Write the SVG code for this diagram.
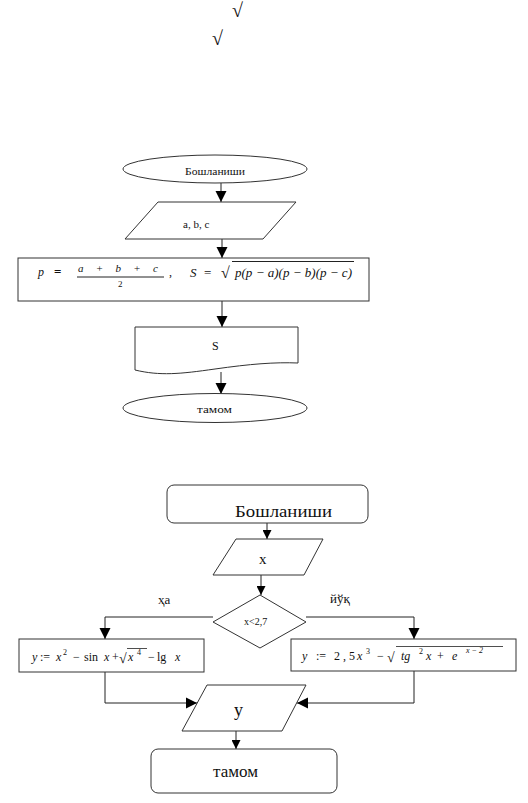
<svg xmlns="http://www.w3.org/2000/svg" width="528" height="803" viewBox="0 0 528 803">
<style>
.s{fill:#fff;stroke:#333;stroke-width:1}
.c{fill:none;stroke:#222;stroke-width:1}
.t{font-family:"Liberation Serif","Times New Roman",serif;fill:#111}
.i{font-style:italic}
</style>
<defs>
<marker id="aL" viewBox="0 0 10 10" refX="10" refY="5" markerWidth="11" markerHeight="12" markerUnits="userSpaceOnUse" orient="auto"><path d="M0,0 L10,5 L0,10 Z" fill="#000"/></marker>
<marker id="aS" viewBox="0 0 10 10" refX="10" refY="5" markerWidth="9" markerHeight="9" markerUnits="userSpaceOnUse" orient="auto"><path d="M0,0 L10,5 L0,10 Z" fill="#000"/></marker>
</defs>
<rect width="528" height="803" fill="#fff"/>
<text class="t" x="232" y="17" font-size="20">√</text>
<text class="t" x="212" y="45" font-size="20">√</text>

<g id="connectors">
<path class="c" d="M221,183 V202" marker-end="url(#aL)"/>
<path class="c" d="M222,239 V258" marker-end="url(#aL)"/>
<path class="c" d="M222,301 V327" marker-end="url(#aL)"/>
<path class="c" d="M221,372 V394" marker-end="url(#aL)"/>
<path class="c" d="M267,523 V539" marker-end="url(#aS)"/>
<path class="c" d="M261,575 V595" marker-end="url(#aS)"/>
<path class="c" d="M213,617 H105 V639" marker-end="url(#aL)"/>
<path class="c" d="M306,617 H414 V639" marker-end="url(#aL)"/>
<path class="c" d="M105,672 V703 H197" marker-end="url(#aL)"/>
<path class="c" d="M414,671 V703 H297" marker-end="url(#aL)"/>
<path class="c" d="M236,731 V749" marker-end="url(#aS)"/>
</g>

<g id="start1">
<ellipse class="s" cx="215" cy="169" rx="92" ry="14"/>
<text class="t" x="185" y="175" font-size="11" textLength="60" lengthAdjust="spacingAndGlyphs">Бошланиши</text>
</g>
<g id="input1">
<polygon class="s" points="158,202 296,202 263,239 125,239"/>
<text class="t" x="183" y="228" font-size="11">a, b, c</text>
</g>
<g id="calc1">
<rect class="s" x="18" y="258" width="351" height="43"/>
<text class="t i" x="38" y="276" font-size="12">p</text>
<text class="t" x="54" y="276" font-size="13" font-weight="bold">=</text>
<text class="t i" x="78" y="272" font-size="11" textLength="80" xml:space="preserve">a  +  b  +  c</text>
<line x1="77" y1="277" x2="164" y2="277" stroke="#222" stroke-width="1"/>
<text class="t" x="118" y="287" font-size="9">2</text>
<text class="t" x="169" y="276" font-size="12">,</text>
<text class="t i" x="190" y="277" font-size="13">S</text>
<text class="t" x="204" y="277" font-size="13">=</text>
<text class="t" x="221" y="278" font-size="16">√</text>
<line x1="232" y1="261.5" x2="354" y2="261.5" stroke="#222" stroke-width="1"/>
<text class="t i" x="235" y="277" font-size="13" textLength="117" lengthAdjust="spacingAndGlyphs">p(p − a)(p − b)(p − c)</text>
</g>
<g id="output1">
<path class="s" d="M135,327 H298 V363 C275,362 250,364 215,369 C180,374 160,376 135,370 Z"/>
<text class="t" x="212" y="350" font-size="12">S</text>
</g>
<g id="end1">
<ellipse class="s" cx="215" cy="408" rx="92" ry="14.5"/>
<text class="t" x="197" y="413" font-size="11" textLength="35" lengthAdjust="spacingAndGlyphs">тамом</text>
</g>

<g id="start2">
<rect class="s" x="167" y="485" width="201" height="38" rx="7"/>
<text class="t" x="235" y="517" font-size="16" textLength="97" lengthAdjust="spacingAndGlyphs">Бошланиши</text>
</g>
<g id="input2">
<polygon class="s" points="236,539 323,539 304,575 213,575"/>
<text class="t" x="259" y="564" font-size="15">x</text>
</g>
<g id="decision">
<polygon class="s" points="260,595 306,622 260,648 213,622"/>
<text class="t" x="244" y="625" font-size="10">x&lt;2,7</text>
</g>
<text class="t" x="158" y="604" font-size="13">ҳа</text>
<text class="t" x="330" y="603" font-size="13">йўқ</text>
<g id="calcLeft">
<rect class="s" x="19" y="639" width="185" height="33"/>
<g class="t" font-size="12">
<text class="i" x="32" y="661">y</text>
<text x="40" y="661">:=</text>
<text class="i" x="56" y="661">x</text>
<text x="63" y="655" font-size="8">2</text>
<text x="73" y="661">−</text>
<text x="84" y="661">sin</text>
<text class="i" x="104" y="661">x</text>
<text x="112" y="661">+</text>
<text x="119" y="663" font-size="14">√</text>
<text class="i" x="128" y="661">x</text>
<text x="137" y="655" font-size="8">4</text>
<text x="148" y="661">−</text>
<text x="157" y="661">lg</text>
<text class="i" x="175" y="661">x</text>
</g>
<line x1="127" y1="648.5" x2="147" y2="648.5" stroke="#222" stroke-width="0.8"/>
</g>
<g id="calcRight">
<rect class="s" x="291" y="639" width="225" height="32"/>
<g class="t" font-size="12">
<text class="i" x="302" y="660">y</text>
<text x="316" y="660">:=</text>
<text x="334" y="660" xml:space="preserve">2 , 5</text>
<text class="i" x="357" y="660">x</text>
<text x="366" y="654" font-size="8">3</text>
<text x="377" y="660">−</text>
<text x="387" y="662" font-size="14">√</text>
<text class="i" x="401" y="660">tg</text>
<text x="419" y="654" font-size="8">2</text>
<text class="i" x="426" y="660">x</text>
<text x="437" y="660">+</text>
<text class="i" x="452" y="660">e</text>
<text class="i" x="466" y="653" font-size="8" xml:space="preserve">x − 2</text>
</g>
<line x1="396" y1="646.5" x2="503" y2="646.5" stroke="#222" stroke-width="0.8"/>
</g>
<g id="output2">
<polygon class="s" points="207,685 306,685 282,731 182,731"/>
<text class="t" x="234" y="716" font-size="18">y</text>
</g>
<g id="end2">
<rect class="s" x="151" y="749" width="186" height="44" rx="7"/>
<text class="t" x="213" y="777" font-size="16" textLength="45" lengthAdjust="spacingAndGlyphs">тамом</text>
</g>
</svg>
